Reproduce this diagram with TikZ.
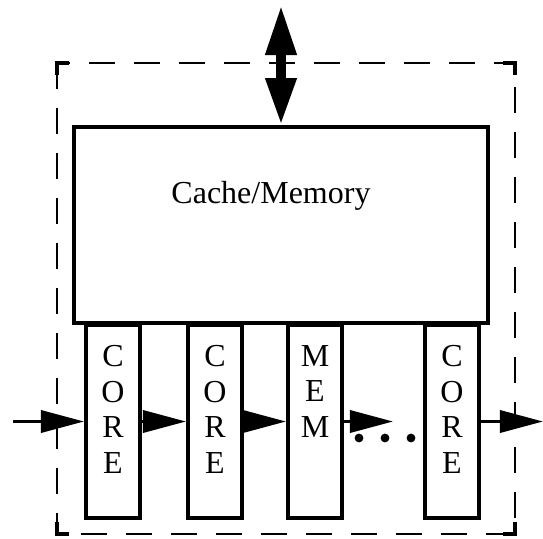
\documentclass[tikz,border=0pt]{standalone}
\usepackage{fontspec}
\setmainfont{Liberation Serif}
\usetikzlibrary{positioning,arrows.meta}
\tikzset{
  unit/.style={shape=rectangle,draw,line width=2pt,inner sep=0pt,
    minimum width=27pt,minimum height=96.5pt},
  letters/.style={align=center,inner sep=0pt,anchor=north},
  flow/.style={line width=1.75pt,-{Triangle[length=21.5pt,width=11pt]}},
  corner/.style={line width=2pt}
}

\begin{document}
\begin{tikzpicture}[x=0.5pt,y=-0.5pt,font=\fontsize{16}{17.75}\selectfont]
    \useasboundingbox (0,0) rectangle (543,538);
    % outer dashed frame with heavy corners
    \draw [line width=0.6pt,dash pattern=on 13pt off 9.5pt] (57,63) rectangle (515,534);
    \draw [corner] (57,75) -- (57,63) -- (69,63);
    \draw [corner] (503,63) -- (515,63) -- (515,75);
    \draw [corner] (57,522) -- (57,534) -- (69,534);
    \draw [corner] (503,534) -- (515,534) -- (515,522);
    % cache on top of the row of units
    \node (cache) [unit,minimum width=207pt,minimum height=98pt] at (281,225) {};
    \node (cachetext) at (271,196) {Cache/Memory};
    \node (c1) [unit] at (113,421.5) {};
    \node (c2) [unit] at (215,421.5) {};
    \node (m) [unit] at (315,421.5) {};
    \node (c4) [unit] at (452,421.5) {};
    \node (c1t) [letters] at (113,345) {C\\O\\R\\E};
    \node (c2t) [letters] at (215,345) {C\\O\\R\\E};
    \node (mt) [letters] at (315,345) {M\\E\\M};
    \node (c4t) [letters] at (452,345) {C\\O\\R\\E};
    \coordinate (top) at (281,5);
    \coordinate (in) at (13,421.5);
    \coordinate (gap) at (393,421.5);
    \coordinate (out) at (543,421.5);
    \draw [line width=5pt,{Triangle[length=25pt,width=14.5pt]}-{Triangle[length=23.5pt,width=14.5pt]}]
      (top) -- (cache.north);
    \draw [flow] (in) -- (c1.west);
    \draw [flow] (c1.east) -- (c2.west);
    \draw [flow] (c2.east) -- (m.west);
    \draw [flow] (m.east) -- (gap);
    \draw [flow] (c4.east) -- (out);
    \foreach \x in {359,385,411}
      \fill (\x,438) circle (2.2pt);
  \end{tikzpicture}
\end{document}
